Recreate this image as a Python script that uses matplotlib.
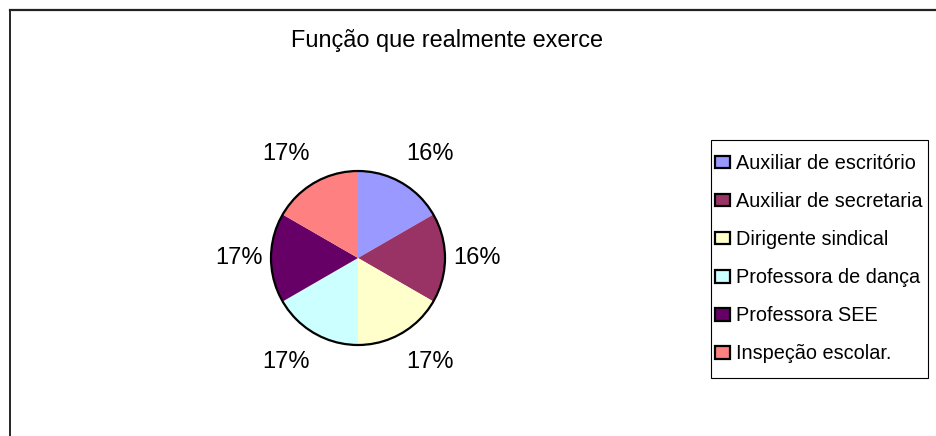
import numpy as np
import matplotlib.pyplot as plt
from matplotlib.lines import Line2D
from matplotlib.patches import Circle, Rectangle

plt.rcParams['font.family'] = ['Liberation Sans', 'DejaVu Sans']

# Data
funcoes = ['Auxiliar de escritório', 'Auxiliar de secretaria', 'Dirigente sindical',
           'Professora de dança', 'Professora SEE', 'Inspeção escolar.']
valores = [1, 1, 1, 1, 1, 1]
rotulos = ['16%', '16%', '17%', '17%', '17%', '17%']
cores = ['#9999FF', '#993366', '#FFFFCC', '#CCFFFF', '#660066', '#FF8080']

W, H = 936, 436
fig = plt.figure(figsize=(W / 100, H / 100), dpi=100)

# Pie axes: centre at (358, 258) px, radius ~87 px
R = 87
cx, cy = 358, H - 258
side = 2.5 * R
ax = fig.add_axes([(cx - side / 2) / W, (cy - side / 2) / H, side / W, side / H])
wedges, texts = ax.pie(valores, colors=cores, labels=rotulos, startangle=90,
                       counterclock=False, labeldistance=1.1,
                       wedgeprops=dict(linewidth=0),
                       textprops=dict(fontsize=17))
# Excel-like label placement: push top/bottom labels outward
for t in texts:
    x, y = t.get_position()
    if abs(y) > 0.1:
        t.set_y(y + np.sign(y) * 0.24)
ax.add_patch(Circle((0, 0), 1, fill=False, edgecolor='black', linewidth=1.6))

# Title
fig.text(447 / W, 1 - 47 / H, 'Função que realmente exerce', fontsize=16.9,
         ha='center', va='baseline')

# Legend (box drawn separately)
fig.add_artist(Rectangle((711 / W, 1 - 378 / H), 217 / W, 238 / H,
                         transform=fig.transFigure, fill=False,
                         edgecolor='black', linewidth=0.8))
leg = fig.legend(wedges, funcoes, loc='upper left',
                 bbox_to_anchor=(715 / W, 1 - 154 / H),
                 fontsize=14.3, frameon=False, borderpad=0,
                 labelspacing=0.96, handlelength=0.75, handleheight=0.6,
                 handletextpad=0.32, borderaxespad=0)
for h in leg.legend_handles:
    h.set_edgecolor('black')
    h.set_linewidth(1.6)

# Chart area frame (only left and top visible)
fig.add_artist(Line2D([9.5 / W, 9.5 / W], [0, 1 - 10 / H], color='black',
                      linewidth=1.2, transform=fig.transFigure))
fig.add_artist(Line2D([9.5 / W, 1], [1 - 10 / H, 1 - 10 / H], color='#222222',
                      linewidth=1.6, transform=fig.transFigure))

fig.savefig('out.png', dpi=100)
